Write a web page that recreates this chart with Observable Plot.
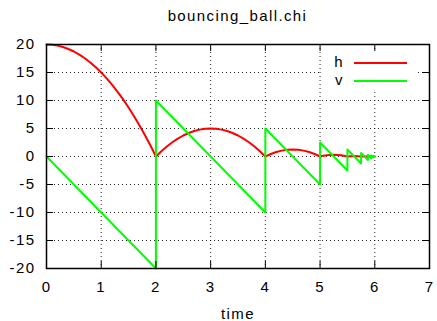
<!DOCTYPE html>
<html><head><meta charset="utf-8">
<script src="https://cdn.jsdelivr.net/npm/d3@7"></script>
<script src="https://cdn.jsdelivr.net/npm/@observablehq/plot@0.6"></script>
<style>
body{margin:0;background:#fff;}
#wrap{position:relative;width:437px;height:321px;font-family:"Liberation Sans",Arial,sans-serif;}
#title{position:absolute;left:46px;width:383px;top:7px;text-align:center;font-size:15px;letter-spacing:1.4px;color:#000;line-height:18px}
svg text{letter-spacing:1.4px}
#legend{position:absolute;left:322px;top:52px;width:96px;height:38px;background:#fff}
.item{position:absolute;left:0;width:96px;height:18px;font-size:15px;letter-spacing:1.4px;line-height:18px}
.item span{position:absolute;right:74px;top:0}
.item i{position:absolute;left:32px;width:53px;height:2px;top:9px}
</style></head>
<body><div id="wrap"><div id="title"></div><div id="legend"></div></div>
<script>
const titleText = "bouncing_ball.chi";
const xLabel = "time";
const seriesNames = ["h", "v"];
const seriesColors = ["#ff0000", "#00ff00"];
const xTicks = [0, 1, 2, 3, 4, 5, 6, 7];
const yTicks = [-20, -15, -10, -5, 0, 5, 10, 15, 20];

// height h(t)
const hTime = [0,0.1,0.2,0.3,0.4,0.5,0.6,0.7,0.8,0.9,1.0,1.1,1.2,1.3,1.4,1.5,1.6,1.7,1.8,1.9,2.0,
  2.1,2.2,2.3,2.4,2.5,2.6,2.7,2.8,2.9,3.0,3.1,3.2,3.3,3.4,3.5,3.6,3.7,3.8,3.9,4.0,
  4.1,4.2,4.3,4.4,4.5,4.6,4.7,4.8,4.9,5.0,
  5.0625,5.125,5.1875,5.25,5.3125,5.375,5.4375,5.5,
  5.5625,5.625,5.6875,5.75,5.8125,5.875,5.9375,6.0];
const hValues = [20,19.95,19.8,19.55,19.2,18.75,18.2,17.55,16.8,15.95,15,13.95,12.8,11.55,10.2,8.75,7.2,5.55,3.8,1.95,0,
  0.95,1.8,2.55,3.2,3.75,4.2,4.55,4.8,4.95,5,4.95,4.8,4.55,4.2,3.75,3.2,2.55,1.8,0.95,0,
  0.45,0.8,1.05,1.2,1.25,1.2,1.05,0.8,0.45,0,
  0.14,0.23,0.29,0.31,0.29,0.23,0.14,0,
  0.06,0.08,0.06,0,0.02,0,0.005,0];

// velocity v(t), read from the green zigzag
const vTime = [0,2,2,4,4,5,5,5.5,5.5,5.75,5.75,5.875,5.875,5.9375,5.9375,5.97,5.97,6.0];
const vValues = [0,-20,10,-10,5,-5,2.5,-2.5,1.25,-1.25,0.62,-0.62,0.31,-0.31,0.16,-0.16,0.08,0];

const hData = hTime.map((t, i) => ({t, val: hValues[i]}));
const vData = vTime.map((t, i) => ({t, val: vValues[i]}));

document.getElementById("title").textContent = titleText;
const legend = document.getElementById("legend");
seriesNames.forEach((name, i) => {
  const d = document.createElement("div");
  d.className = "item";
  d.style.top = (1 + i * 18) + "px";
  d.innerHTML = `<span></span><i style="background:${seriesColors[i]}"></i>`;
  d.querySelector("span").textContent = name;
  legend.appendChild(d);
});

const chart = Plot.plot({
  width: 437, height: 321,
  marginLeft: 46, marginRight: 8, marginTop: 44, marginBottom: 53,
  style: {fontFamily: '"Liberation Sans", Arial, sans-serif', fontSize: "15px", color: "#000", background: "#fff"},
  x: {domain: [0, 7]},
  y: {domain: [-20, 20]},
  marks: [
    Plot.gridX(xTicks, {stroke: "#000", strokeOpacity: 0.85, strokeDasharray: "1,3"}),
    Plot.gridY(yTicks, {stroke: "#000", strokeOpacity: 0.85, strokeDasharray: "1,3"}),
    Plot.line(hData, {x: "t", y: "val", stroke: seriesColors[0], strokeWidth: 2}),
    Plot.line(vData, {x: "t", y: "val", stroke: seriesColors[1], strokeWidth: 2}),
    Plot.ruleX(xTicks, {x: d => d, insetTop: 217, stroke: "#000"}),
    Plot.ruleX(xTicks, {x: d => d, insetBottom: 217, stroke: "#000"}),
    Plot.ruleY(yTicks, {y: d => d, insetRight: 376, stroke: "#000"}),
    Plot.ruleY(yTicks, {y: d => d, insetLeft: 376, stroke: "#000"}),
    Plot.frame({stroke: "#000", strokeWidth: 1.5}),
    Plot.axisX(xTicks, {tickSize: 0, tickPadding: 13, tickFormat: d => String(d), label: xLabel, labelAnchor: "center", labelArrow: "none", labelOffset: 50}),
    Plot.axisY(yTicks, {tickSize: 0, tickPadding: 11, tickFormat: d => String(d), label: null})
  ]
});
document.getElementById("wrap").insertBefore(chart, document.getElementById("title"));
</script>
</body></html>
